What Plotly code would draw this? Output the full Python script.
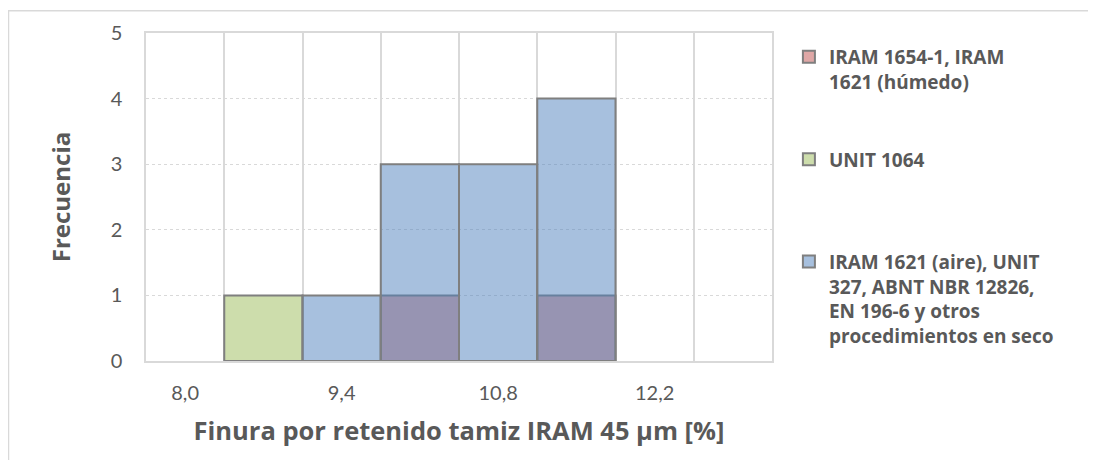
import plotly.graph_objects as go

# Bin centers (finura, %) and frequency counts per series
bin_centers = [8.0, 8.7, 9.4, 10.1, 10.8, 11.5, 12.2, 12.9]
bin_width = 0.7
bin_edges = [7.65, 8.35, 9.05, 9.75, 10.45, 11.15, 11.85, 12.55, 13.25]

series_names = [
    "IRAM 1654-1, IRAM<br>1621 (húmedo)",
    "UNIT 1064<br>\u00a0",
    "IRAM 1621 (aire), UNIT<br>327, ABNT NBR 12826,<br>EN 196-6 y otros<br>procedimientos en seco",
]
counts_humedo = [0, 0, 0, 1, 0, 1, 0, 0]
counts_unit1064 = [0, 1, 0, 0, 0, 0, 0, 0]
counts_seco = [0, 0, 1, 3, 3, 4, 0, 0]

series_colors = ["rgba(192,80,77,0.5)", "rgba(155,187,89,0.5)", "rgba(79,129,189,0.5)"]

x_tick_vals = [8.0, 9.4, 10.8, 12.2]
x_tick_text = ["8,0", "9,4", "10,8", "12,2"]
y_tick_vals = [0, 1, 2, 3, 4, 5]

FONT = "Lato, Carlito, Calibri, sans-serif"
BFONT = "'Open Sans', sans-serif"
TXT = "#595959"
GRID = "#d9d9d9"

# the page body has an 8 px margin; figure is sized to fit the window
W, H = 1088, 452
L, T, PW, PH = 138, 23, 626, 330

fig = go.Figure()
for name, counts, color in zip(series_names, [counts_humedo, counts_unit1064, counts_seco], series_colors):
    fig.add_trace(go.Bar(
        x=bin_centers,
        y=[c if c > 0 else None for c in counts],
        width=bin_width,
        name=name,
        legendgroup=name,
        marker=dict(color=color, line=dict(color="#7f7f7f", width=2)),
        hoverinfo="x+y",
    ))

fig.update_layout(
    width=W, height=H, autosize=False,
    margin=dict(l=L, r=W - L - PW, t=T, b=H - T - PH, pad=0),
    paper_bgcolor="white", plot_bgcolor="white",
    barmode="overlay",
    font=dict(family=FONT, color=TXT, size=20),
    showlegend=True,
    legend=dict(
        x=1.027, xanchor="left", y=0.985, yanchor="top",
        valign="top", traceorder="grouped",
        tracegroupgap=50,
        font=dict(family=BFONT, size=19, color=TXT, weight="bold"),
        bgcolor="rgba(0,0,0,0)",
    ),
    xaxis=dict(
        range=[bin_edges[0], bin_edges[-1]],
        tickmode="array", tickvals=x_tick_vals, ticktext=x_tick_text,
        showgrid=False,
        minor=dict(tickmode="array", tickvals=bin_edges, showgrid=True, gridcolor=GRID, gridwidth=1.5, ticks=""),
        ticks="outside", ticklen=13, tickcolor="rgba(0,0,0,0)",
        showline=True, mirror=True, linecolor=GRID, linewidth=1.5,
        zeroline=False,
        tickfont=dict(size=20, color=TXT),
        title=dict(text="<b>Finura por retenido tamiz IRAM 45 µm [%]</b>",
                   font=dict(family=BFONT, size=25.5, color=TXT), standoff=19),
    ),
    yaxis=dict(
        range=[0, 5], tickmode="array", tickvals=y_tick_vals,
        showgrid=True, gridcolor=GRID, gridwidth=1, griddash="dot",
        ticks="outside", ticklen=18, tickcolor="rgba(0,0,0,0)",
        showline=True, mirror=True, linecolor=GRID, linewidth=1.5,
        zeroline=False,
        tickfont=dict(size=20, color=TXT),
        title=dict(text="<b>Frecuencia</b>", font=dict(family=BFONT, size=24, color=TXT), standoff=33),
    ),
    shapes=[dict(
        type="rect", xref="paper", yref="paper",
        x0=-(L - 0.5) / PW, x1=(W + 20 - L) / PW,
        y0=-(H + 20 - T - PH) / PH, y1=(PH + T - 0.5) / PH,
        line=dict(color=GRID, width=1.5), fillcolor="rgba(0,0,0,0)", layer="below",
    )],
)

fig.write_html("out.html")
